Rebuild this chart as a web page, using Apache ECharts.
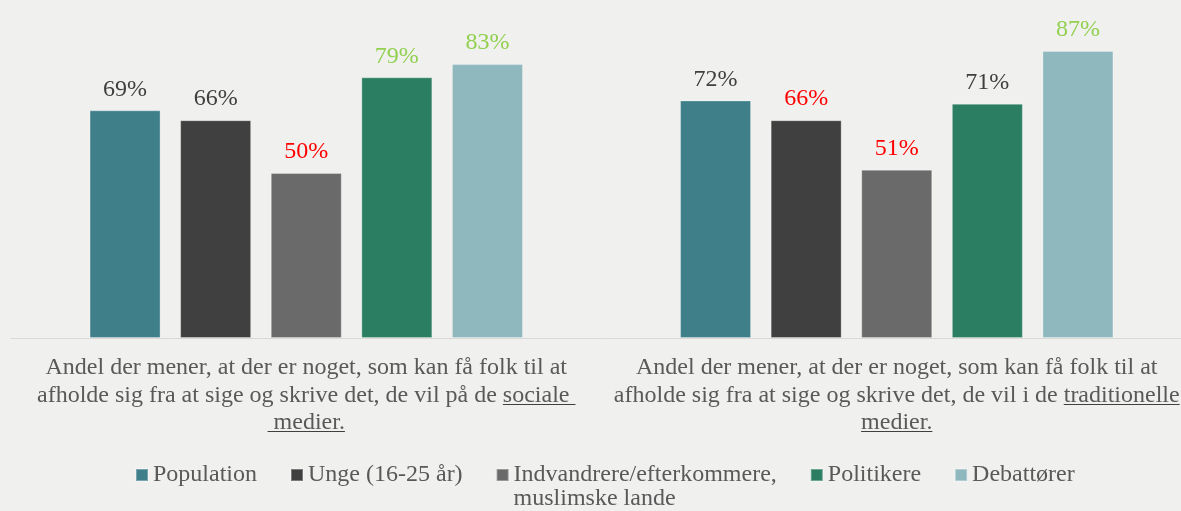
<!DOCTYPE html>
<html>
<head>
<meta charset="utf-8">
<script src="https://cdn.jsdelivr.net/npm/echarts@6/dist/echarts.min.js"></script>
<style>
  html, body { margin: 0; padding: 0; background: #F0F0EF; overflow: hidden; }
  /* lidt bredere end vinduet: højre kategori skal gå ud over kanten som i originalen */
  #chart { width: 1192px; height: 511px; }
</style>
</head>
<body>
<div id="chart"></div>
<script>
const categories = [
  'Andel der mener, at der er noget, som kan få folk til at afholde sig fra at sige og skrive det, de vil på de sociale medier.',
  'Andel der mener, at der er noget, som kan få folk til at afholde sig fra at sige og skrive det, de vil i de traditionelle medier.'
];
const seriesNames = ['Population', 'Unge (16-25 år)', 'Indvandrere/efterkommere, muslimske lande', 'Politikere', 'Debattører'];
const population = [69, 72];
const unge = [66, 66];
const indvandrere = [50, 51];
const politikere = [79, 71];
const debattorer = [83, 87];

const values = [population, unge, indvandrere, politikere, debattorer];
const barColors = ['#3E7F8A', '#404040', '#6A6A6A', '#2C7E62', '#8EB8BE'];
// farve på procent-labels (mørk / rød / grøn)
const DARK = '#404040', RED = '#FF0000', GREEN = '#92D050';
const labelColors = [
  [DARK, DARK],
  [DARK, RED],
  [RED, RED],
  [GREEN, DARK],
  [GREEN, GREEN]
];

const FONT = "'Liberation Serif', 'Times New Roman', serif";
const TXT = '#595959';

const underline = new echarts.graphic.LinearGradient(0, 0, 0, 1, [
  { offset: 0, color: 'rgba(0,0,0,0)' },
  { offset: 0.86, color: 'rgba(0,0,0,0)' },
  { offset: 0.86, color: '#404040' },
  { offset: 0.905, color: '#404040' },
  { offset: 0.905, color: 'rgba(0,0,0,0)' },
  { offset: 1, color: 'rgba(0,0,0,0)' }
]);

const chart = echarts.init(document.getElementById('chart'));

const option = {
  backgroundColor: '#F0F0EF',
  animation: false,
  grid: { left: 11, right: 0, top: 8, bottom: 173 },
  xAxis: {
    type: 'category',
    data: categories,
    axisTick: { show: false },
    axisLine: { lineStyle: { color: '#D9D9D9', width: 1 } },
    axisLabel: {
      interval: 0,
      margin: 16,
      color: TXT,
      fontFamily: FONT,
      fontSize: 24,
      lineHeight: 27.5,
      formatter: (v) => v
        .replace('til at afholde', 'til at\nafholde')
        .replace('de sociale medier.', 'de {u|sociale }\n{u| medier.}')
        .replace('de traditionelle medier.', 'de {u|traditionelle}\n{u|medier.}'),
      rich: {
        u: { color: TXT, fontFamily: FONT, fontSize: 24, lineHeight: 27.5, backgroundColor: underline }
      }
    }
  },
  yAxis: {
    type: 'value',
    min: 0,
    max: 100,
    show: false,
    splitLine: { show: false }
  },
  legend: {
    left: 135,
    top: 439,
    padding: 0,
    itemGap: 33,
    itemWidth: 12,
    itemHeight: 12,
    icon: 'rect',
    selectedMode: false,
    textStyle: { color: TXT, fontFamily: FONT, fontSize: 24, lineHeight: 24 },
    // blank første linje, så ikonet flugter med første tekstlinje
    formatter: (n) => n.indexOf(', ') > 0 ? ' \n' + n.replace(', ', ',\n') : n,
    data: seriesNames
  },
  series: seriesNames.map((name, i) => ({
    name: name,
    type: 'bar',
    barWidth: 71,
    barGap: '27.6%',
    itemStyle: { color: barColors[i], borderColor: 'rgba(255,255,255,0.3)', borderWidth: 1 },
    label: {
      show: true,
      position: 'top',
      distance: 9,
      formatter: '{c}%',
      fontFamily: FONT,
      fontSize: 24
    },
    data: values[i].map((v, j) => ({ value: v, label: { color: labelColors[i][j] } }))
  }))
};

chart.setOption(option);
</script>
</body>
</html>
